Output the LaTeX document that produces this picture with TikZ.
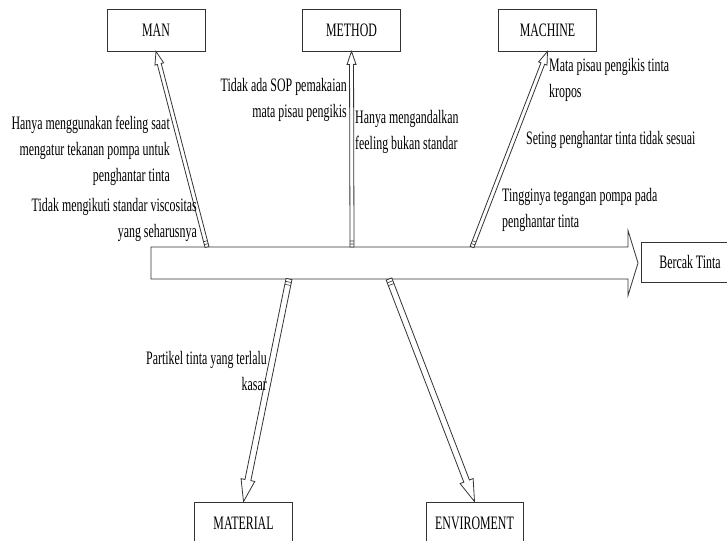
\documentclass[tikz,border=0pt]{standalone}
\usepackage{fontspec}
\setmainfont{Liberation Serif}[FakeStretch=0.626]
\usetikzlibrary{calc}
\tikzset{
  ln/.style={draw=black!80, line width=0.8pt},
  catbox/.style={ln, fill=white, minimum width=98pt, minimum height=42pt, inner sep=0pt, font=\fontsize{19}{26}\selectfont},
  lbl/.style={inner sep=0pt, font=\fontsize{19}{26}\selectfont, text=black},
}
% #1 tail, #2 tip, #3 half shaft width, #4 half head width, #5 head length
\newcommand\blockarr[5]{%
  \coordinate (ba-c) at ($(#2)!#5!(#1)$);
  \filldraw[ln, fill=white]
    ($(#1)!#3!90:(#2)$) -- ($(ba-c)!#3!90:(#2)$) -- ($(ba-c)!#4!90:(#2)$) -- (#2)
    -- ($(ba-c)!#4!-90:(#2)$) -- ($(ba-c)!#3!-90:(#2)$) -- ($(#1)!#3!-90:(#2)$) -- cycle;
}
\newcommand\tailticks[3]{%
  \coordinate (tt-a) at ($(#1)!3pt!(#2)$);
  \coordinate (tt-b) at ($(#1)!6pt!(#2)$);
  \draw[ln, line width=0.6pt] ($(tt-a)!#3!90:(#2)$) -- ($(tt-a)!#3!-90:(#2)$);
  \draw[ln, line width=0.6pt] ($(tt-b)!#3!90:(#2)$) -- ($(tt-b)!#3!-90:(#2)$);
}
\begin{document}
\begin{tikzpicture}[x=1pt, y=-1pt]
\useasboundingbox (0,0) rectangle (727,540);
\clip (0,0) rectangle (727,540);
\fill[white] (0,0) rectangle (727,540);

% category boxes
\node[catbox] (man)     at (156,30)    {MAN};
\node[catbox] (method)  at (351.5,30)  {METHOD};
\node[catbox] (machine) at (547.5,30)  {MACHINE};
\node[catbox] (material) at (243.5,523) {MATERIAL};
\node[catbox, minimum width=97pt] (env) at (474.5,523) {ENVIROMENT};
\node[catbox, minimum height=40pt] (bercak) at (690,262) {Bercak Tinta};

% spine
\coordinate (spineTail) at (151,263);
\coordinate (spineTip) at (638,263);
\blockarr{spineTail}{spineTip}{16pt}{32.5pt}{10pt}

% branch tails on the spine
\coordinate (manT) at (207,247);
\coordinate (methT) at (352,247);
\coordinate (macT) at (472,247);
\coordinate (matT) at (289,279);
\coordinate (envT) at (389,279);

\blockarr{manT}{man.south}{2pt}{4.5pt}{13pt}
\tailticks{manT}{man.south}{2pt}
\blockarr{methT}{method.south}{2pt}{4.5pt}{13pt}
\tailticks{methT}{method.south}{2pt}
\blockarr{macT}{machine.south}{2pt}{4.5pt}{13pt}
\tailticks{macT}{machine.south}{2pt}
\blockarr{matT}{material.north}{3pt}{7pt}{22pt}
\tailticks{matT}{material.north}{3pt}
\blockarr{envT}{env.north}{3pt}{7pt}{22pt}
\tailticks{envT}{env.north}{3pt}

% cause labels
\node[lbl, anchor=east, align=right] (manA) at (170,151)
  {Hanya menggunakan feeling saat\\mengatur tekanan pompa untuk\\penghantar tinta};
\node[lbl, anchor=east, align=right] (manB) at (197,220)
  {Tidak mengikuti standar viscositas\\yang seharusnya};
\node[lbl, anchor=east, align=right] (methA) at (347,100)
  {Tidak ada SOP pemakaian\\mata pisau pengikis};
\node[lbl, anchor=west, align=left] (methB) at (355,132)
  {Hanya mengandalkan\\feeling bukan standar};
\node[lbl, anchor=west, align=left] (macA) at (549,80)
  {Mata pisau pengikis tinta\\kropos};
\node[lbl, anchor=west, align=left] (macB) at (526,140)
  {Seting penghantar tinta tidak sesuai};
\node[lbl, anchor=west, align=left] (macC) at (502,210)
  {Tingginya tegangan pompa pada\\penghantar tinta};
\node[lbl, anchor=east, align=right] (mat) at (267,371)
  {Partikel tinta yang terlalu\\kasar};
\end{tikzpicture}
\end{document}
